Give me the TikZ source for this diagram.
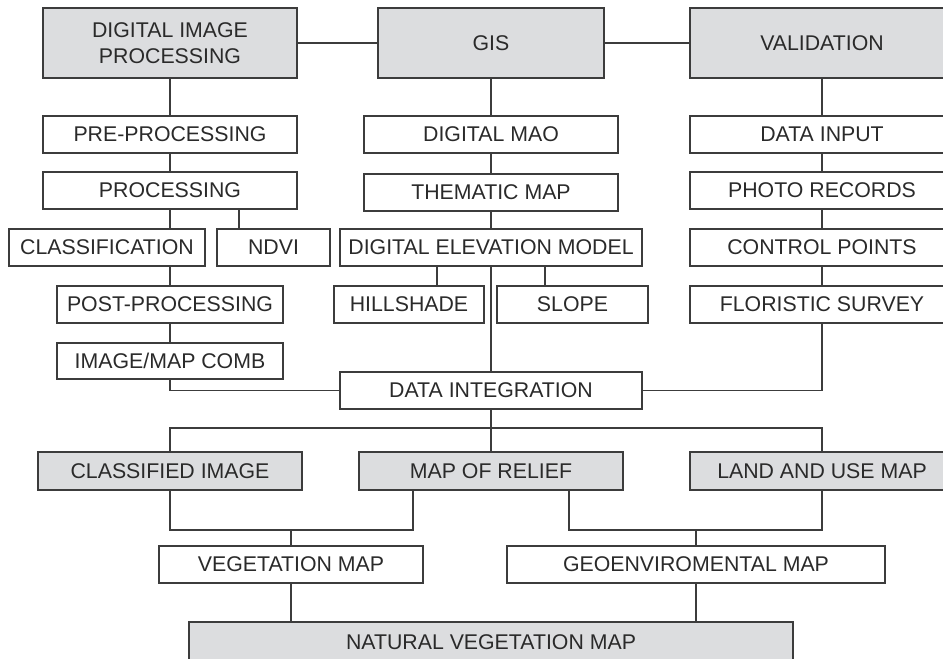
\documentclass[tikz,border=0pt]{standalone}
\usepackage{fontspec}
\setmainfont{Liberation Sans}
\definecolor{boxgray}{HTML}{DCDDDF}
\definecolor{linegray}{HTML}{3C3C3C}
\definecolor{txtgray}{HTML}{2A2A2A}
\tikzset{
  bx/.style={draw=linegray, line width=1.2pt, fill=white, inner sep=0pt, text=txtgray,
    font=\fontsize{21.3}{26}\selectfont, align=center},
  gbx/.style={bx, fill=boxgray},
  conn/.style={draw=linegray, line width=1.2pt}
}
% \bxat{style}{name}{x1}{y1}{x2}{y2}{text}
\newcommand{\bxat}[7]{%
  \pgfmathsetmacro{\cxx}{(#3+#5)/2}\pgfmathsetmacro{\cyy}{(#4+#6)/2}%
  \pgfmathsetmacro{\wdd}{#5-#3}\pgfmathsetmacro{\htt}{#6-#4}%
  \node[#1, minimum width=\wdd pt, minimum height=\htt pt] (#2) at (\cxx,\cyy) {#7};}
\begin{document}
\begin{tikzpicture}[x=1pt,y=-1pt]
\useasboundingbox (0,0) rectangle (943,659);
% row 1
\bxat{gbx}{dip}{43}{8}{297}{78}{DIGITAL IMAGE\\PROCESSING}
\bxat{gbx}{gis}{378}{8}{604}{78}{GIS}
\bxat{gbx}{val}{690}{8}{954}{78}{VALIDATION}
% left column
\bxat{bx}{pre}{43}{116}{297}{153}{PRE-PROCESSING}
\bxat{bx}{proc}{43}{172}{297}{209}{PROCESSING}
\bxat{bx}{class}{9}{229}{205}{266}{CLASSIFICATION}
\bxat{bx}{ndvi}{217}{229}{330}{266}{NDVI}
\bxat{bx}{post}{57}{286}{283}{323}{POST-PROCESSING}
\bxat{bx}{imc}{57}{343}{283}{379}{IMAGE/MAP COMB}
% middle column
\bxat{bx}{dmao}{364}{116}{618}{153}{DIGITAL MAO}
\bxat{bx}{them}{364}{174}{618}{211}{THEMATIC MAP}
\bxat{bx}{dem}{340}{229}{642}{266}{DIGITAL ELEVATION MODEL}
\bxat{bx}{hill}{334}{286}{484}{323}{HILLSHADE}
\bxat{bx}{slope}{497}{286}{648}{323}{SLOPE}
\bxat{bx}{dint}{340}{372}{642}{409}{DATA INTEGRATION}
% right column
\bxat{bx}{din}{690}{116}{954}{153}{DATA INPUT}
\bxat{bx}{photo}{690}{172}{954}{209}{PHOTO RECORDS}
\bxat{bx}{cp}{690}{229}{954}{266}{CONTROL POINTS}
\bxat{bx}{flor}{690}{286}{954}{323}{FLORISTIC SURVEY}
% lower part
\bxat{gbx}{cli}{38}{452}{302}{490}{CLASSIFIED IMAGE}
\bxat{gbx}{mor}{359}{452}{623}{490}{MAP OF RELIEF}
\bxat{gbx}{lum}{690}{452}{954}{490}{LAND AND USE MAP}
\bxat{bx}{veg}{159}{546}{423}{583}{VEGETATION MAP}
\bxat{bx}{geo}{507}{546}{885}{583}{GEOENVIROMENTAL MAP}
\bxat{gbx}{nvm}{189}{622}{793}{662}{NATURAL VEGETATION MAP}
\coordinate (bus) at (491,428);
\coordinate (j1) at (291,530);
\coordinate (j2) at (696,530);
% connectors top
\draw[conn] (dip) -- (gis);
\draw[conn] (gis) -- (val);
\draw[conn] (dip) -- (pre);
\draw[conn] (pre) -- (proc);
\draw[conn] (proc.south) -- (proc.south |- class.north);
\draw[conn] ([xshift=69]proc.south) -- ([xshift=69]proc.south |- ndvi.north);
\draw[conn] (post.north |- class.south) -- (post.north);
\draw[conn] (post) -- (imc);
\draw[conn] (imc.south) |- (dint.west);
\draw[conn] (gis) -- (gis |- dmao.north);
\draw[conn] (gis |- dmao.south) -- (gis |- them.north);
\draw[conn] (gis |- them.south) -- (dem);
\draw[conn] ([xshift=-54]dem.south) -- ([xshift=-54]dem.south |- hill.north);
\draw[conn] ([xshift=54]dem.south) -- ([xshift=54]dem.south |- slope.north);
\draw[conn] (dem) -- (dint);
\draw[conn] (val) -- (din);
\draw[conn] (din) -- (photo);
\draw[conn] (photo) -- (cp);
\draw[conn] (cp) -- (flor);
\draw[conn] (flor.south) |- (dint.east);
% connectors bottom
\draw[conn] (dint) -- (mor);
\draw[conn] (cli.north) -- (cli.north |- bus) -- (lum.north |- bus) -- (lum.north);
\draw[conn] (cli.south) -- (cli.south |- j1) -- ([xshift=-78]mor.south |- j1) -- ([xshift=-78]mor.south);
\draw[conn] ([xshift=78]mor.south) -- ([xshift=78]mor.south |- j2) -- (lum.south |- j2) -- (lum.south);
\draw[conn] (veg.north |- j1) -- (veg.north);
\draw[conn] (geo.north |- j2) -- (geo.north);
\draw[conn] (veg.south) -- (veg.south |- nvm.north);
\draw[conn] (geo.south) -- (geo.south |- nvm.north);
\end{tikzpicture}
\end{document}
